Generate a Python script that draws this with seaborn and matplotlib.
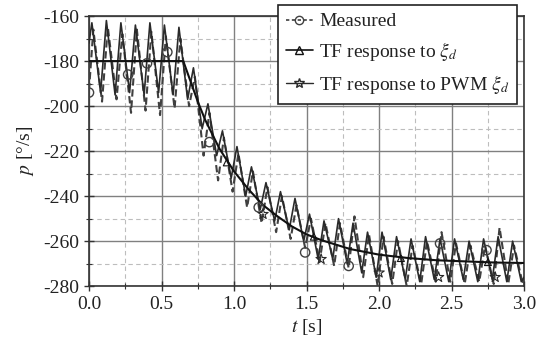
import matplotlib
matplotlib.use("Agg")
import matplotlib.pyplot as plt
from matplotlib.lines import Line2D
from matplotlib.ticker import MultipleLocator, FormatStrFormatter
import numpy as np
import pandas as pd
import seaborn as sns

# ---------------- data ----------------
# TF response to xi_d (smooth curve)
tf_t = [0.0, 0.65, 0.70, 0.75, 0.80, 0.90, 1.00, 1.10, 1.20, 1.30, 1.40, 1.50,
        1.60, 1.70, 1.80, 2.00, 2.20, 2.40, 2.60, 2.80, 3.00]
tf_p = [-180, -180, -189, -198, -206, -219, -229, -237, -244, -249, -253.5, -257,
        -259.5, -261.5, -263.5, -266, -267.5, -268.5, -269, -269.5, -269.7]
tf_mark_t = [0.95, 1.55, 2.15, 2.75]
tf_mark_p = [-225, -258, -267.5, -269.3]

# TF response to PWM xi_d (sawtooth vertices)
pwm_t = [0.00, 0.02, 0.08, 0.12, 0.18, 0.22, 0.28, 0.32, 0.38, 0.42, 0.48, 0.52,
         0.58, 0.62, 0.68, 0.72, 0.78, 0.82, 0.88, 0.92, 0.98, 1.02, 1.08, 1.12,
         1.18, 1.22, 1.28, 1.32, 1.38, 1.42, 1.48, 1.52, 1.58, 1.62, 1.68, 1.72,
         1.78, 1.82, 1.88, 1.92, 1.98, 2.02, 2.08, 2.12, 2.18, 2.22, 2.28, 2.32,
         2.38, 2.42, 2.48, 2.52, 2.58, 2.62, 2.68, 2.72, 2.78, 2.82, 2.88, 2.92,
         2.98, 3.00]
pwm_p = [-172,
         -163, -194, -162, -195, -163, -194, -164, -195, -163, -194,
         -164, -195, -165, -197, -183, -210, -199, -222, -211, -232,
         -218, -240, -227, -246, -234, -251, -238, -255, -241, -260,
         -248, -268, -251, -268, -250, -270, -252, -274, -256, -276,
         -256, -277, -258, -277, -259, -278, -258, -277, -259, -278,
         -259, -277, -260, -278, -259, -277, -258, -278, -260, -278,
         -276]
pwm_mark_t = [1.20, 1.60, 2.00, 2.41, 2.80]
pwm_mark_p = [-248, -268, -274, -276, -276]

# Measured (dashed sawtooth vertices)
meas_t = [0.00, 0.03, 0.09, 0.13, 0.19, 0.23, 0.29, 0.33, 0.39, 0.43, 0.49, 0.53,
          0.59, 0.63, 0.69, 0.73, 0.79, 0.83, 0.89, 0.93, 0.99, 1.03, 1.09, 1.13,
          1.19, 1.23, 1.29, 1.33, 1.39, 1.43, 1.49, 1.53, 1.59, 1.63, 1.69, 1.73,
          1.79, 1.83, 1.89, 1.93, 1.99, 2.03, 2.09, 2.13, 2.19, 2.23, 2.29, 2.33,
          2.39, 2.43, 2.49, 2.53, 2.59, 2.63, 2.69, 2.73, 2.79, 2.83, 2.89, 2.93,
          2.99, 3.00]
meas_p = [-193,
          -166, -198, -165, -197, -168, -203, -166, -202, -167, -204,
          -169, -201, -170, -200, -187, -222, -203, -233, -214, -238,
          -221, -245, -229, -252, -236, -256, -240, -259, -244, -263,
          -250, -269, -252, -271, -252, -272, -249, -276, -257, -280,
          -258, -279, -260, -280, -262, -279, -260, -278, -256, -278,
          -261, -279, -262, -278, -262, -279, -254, -279, -262, -279,
          -276]
meas_mark_t = [0.00, 0.27, 0.40, 0.54, 0.83, 1.17, 1.49, 1.79, 2.42, 2.74]
meas_mark_p = [-194, -186, -181, -176, -216, -245, -265, -271, -261, -264]

legend_labels = ["Measured", r"TF response to $\xi_d$", r"TF response to PWM $\xi_d$"]

# ---------------- style ----------------
sns.set_theme(style="white")
plt.rcParams["font.family"] = ["Liberation Serif", "DejaVu Serif"]
plt.rcParams["mathtext.fontset"] = "stix"
plt.rcParams["axes.unicode_minus"] = False

fig = plt.figure(figsize=(5.36, 3.49), dpi=100)
ax = fig.add_axes([0.166, 0.180, 0.812, 0.774])

df_pwm = pd.DataFrame({"t": pwm_t, "p": pwm_p})
df_meas = pd.DataFrame({"t": meas_t, "p": meas_p})
df_tf = pd.DataFrame({"t": tf_t, "p": tf_p})

c_meas = "#404040"
c_pwm = "#2a2a2a"
c_tf = "#111111"

sns.lineplot(data=df_meas, x="t", y="p", ax=ax, color=c_meas, linewidth=1.5,
             linestyle=(0, (3.5, 1.8)), estimator=None, sort=False, zorder=3)
sns.lineplot(data=df_pwm, x="t", y="p", ax=ax, color=c_pwm, linewidth=1.2,
             estimator=None, sort=False, zorder=4)
sns.lineplot(data=df_tf, x="t", y="p", ax=ax, color=c_tf, linewidth=1.5,
             estimator=None, sort=False, zorder=5)

sns.scatterplot(x=meas_mark_t, y=meas_mark_p, ax=ax, marker="o", s=45,
                fc="none", ec=c_meas, linewidth=1.0, zorder=6)
sns.scatterplot(x=pwm_mark_t, y=pwm_mark_p, ax=ax, marker="*", s=60,
                fc="none", ec=c_pwm, linewidth=0.8, zorder=6)
sns.scatterplot(x=tf_mark_t, y=tf_mark_p, ax=ax, marker="^", s=25,
                fc="none", ec=c_tf, linewidth=0.8, zorder=6)

ax.set_xlim(0, 3)
ax.set_ylim(-280, -160)
ax.xaxis.set_major_locator(MultipleLocator(0.5))
ax.xaxis.set_minor_locator(MultipleLocator(0.25))
ax.yaxis.set_major_locator(MultipleLocator(20))
ax.yaxis.set_minor_locator(MultipleLocator(10))
ax.xaxis.set_major_formatter(FormatStrFormatter("%.1f"))
ax.yaxis.set_major_formatter(FormatStrFormatter("%d"))

ax.grid(which="major", color="#808080", linewidth=1.0, linestyle="-")
ax.grid(which="minor", color="#bdbdbd", linewidth=0.8, linestyle=(0, (4, 3)))
ax.set_axisbelow(True)

ax.tick_params(which="major", direction="inout", length=7, width=1.0,
               colors="#333333", labelsize=14, labelcolor="#222222",
               bottom=True, left=True)
ax.tick_params(which="minor", direction="inout", length=4, width=0.8,
               colors="#333333", bottom=True, left=True)
for s in ax.spines.values():
    s.set_color("#333333")
    s.set_linewidth(1.2)

ax.set_xlabel(r"$t$ [s]", fontsize=14, color="#222222", labelpad=3)
ax.set_ylabel(r"$p$ [°/s]", fontsize=14, color="#222222", labelpad=5)

handles = [
    Line2D([], [], color=c_meas, linestyle=(0, (2, 1.5)), linewidth=1.2,
           marker="o", mfc="none", mec=c_meas, markersize=6),
    Line2D([], [], color=c_tf, linestyle="-", linewidth=1.2,
           marker="^", mfc="none", mec=c_tf, markersize=6),
    Line2D([], [], color=c_pwm, linestyle="-", linewidth=1.0,
           marker="*", mfc="none", mec=c_pwm, markersize=7),
]
leg = ax.legend(handles, legend_labels, loc="upper right",
                bbox_to_anchor=(517 / 536, 1 - 5 / 349),
                bbox_transform=fig.transFigure, frameon=True, fancybox=False,
                edgecolor="#222222", framealpha=1, fontsize=14,
                handlelength=1.4, handletextpad=0.3, labelspacing=0.5,
                borderpad=0.4, borderaxespad=0)
leg.get_frame().set_linewidth(1.2)
leg.set_zorder(10)
for t in leg.get_texts():
    t.set_color("#222222")

fig.savefig("out.png", dpi=100)
